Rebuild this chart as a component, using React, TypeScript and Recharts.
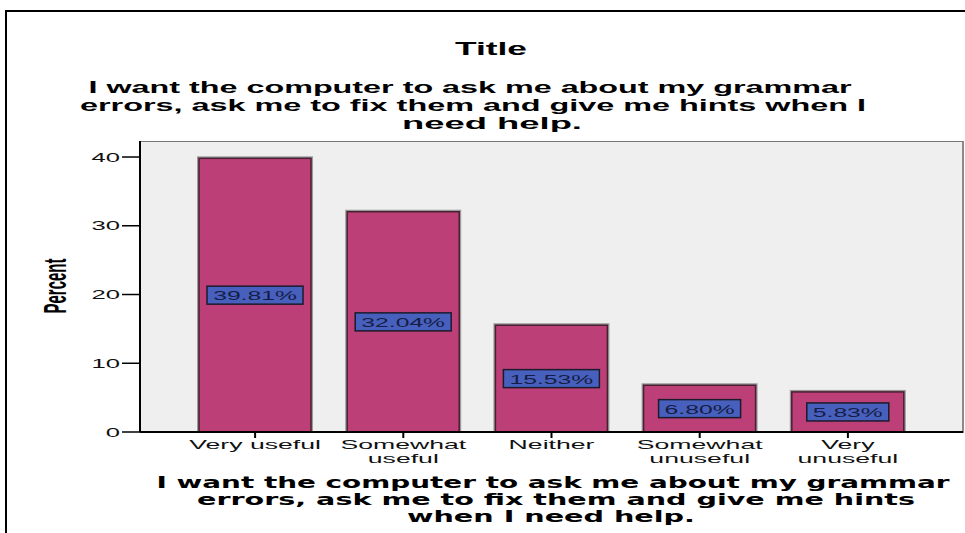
import React from 'react';
import { BarChart, Bar, XAxis, YAxis, LabelList } from 'recharts';

const categories = ['Very useful', 'Somewhat\nuseful', 'Neither', 'Somewhat\nunuseful', 'Very\nunuseful'];
const percents = [39.81, 32.04, 15.53, 6.8, 5.83];
const percentLabels = ['39.81%', '32.04%', '15.53%', '6.80%', '5.83%'];
const yTicks = [0, 10, 20, 30, 40];

const chartTitle = 'Title';
const questionLines = [
  'I want the computer to ask me about my grammar',
  'errors, ask me to fix them and give me hints when I',
  'need help.',
];
const axisTitleLines = [
  'I want the computer to ask me about my grammar',
  'errors, ask me to fix them and give me hints',
  'when I need help.',
];
const yAxisTitle = 'Percent';

const data = categories.map((c, i) => ({ name: c, value: percents[i], label: percentLabels[i] }));

const SX = 2.05; // the source image is stretched sideways
const FONT = '"Liberation Sans", Arial, sans-serif';

function CatTick({ x, y, payload }: any) {
  const lines = String(payload.value).split('\n');
  return (
    <text transform={`translate(${x},${y}) scale(${SX},1)`} textAnchor="middle" fontFamily={FONT} fontSize={13} fill="#111">
      {lines.map((l, i) => (
        <tspan key={i} x={0} dy={i === 0 ? 9 : 14}>{l}</tspan>
      ))}
    </text>
  );
}

function ValTick({ x, y, payload }: any) {
  return (
    <text transform={`translate(${x},${y}) scale(${SX},1)`} textAnchor="end" dy={4.5} fontFamily={FONT} fontSize={12.5} fill="#111">
      {payload.value}
    </text>
  );
}

function BarShape({ x, y, width, height }: any) {
  return (
    <g>
      <rect x={x - 1} y={y - 1} width={width + 2} height={height + 1} fill="none" stroke="#9a9a9a" strokeWidth={2} />
      <rect x={x} y={y} width={width} height={height} fill="#bc3f78" stroke="#4a1f30" strokeWidth={1.5} />
    </g>
  );
}

function BoxLabel({ x, y, width, height, value }: any) {
  const text = String(value);
  const w = text.length * 14 + 12;
  const cx = x + width / 2;
  const cy = y + height / 2;
  return (
    <g>
      <rect x={cx - w / 2} y={cy - 9} width={w} height={18} fill="#4760bd" stroke="#1b1b2b" strokeWidth={1.5} />
      <text transform={`translate(${cx},${cy + 5}) scale(1.9,1)`} textAnchor="middle" fontFamily={FONT} fontSize={13} fill="#161d45">
        {text}
      </text>
    </g>
  );
}

export default function App() {
  return (
    <div style={{ position: 'absolute', left: 0, top: 0, width: 965, height: 533, background: '#fff', overflow: 'hidden' }}>
      {/* outer frame */}
      <div style={{ position: 'absolute', left: 5, top: 10, width: 970, height: 540, borderLeft: '2px solid #000', borderTop: '2px solid #000' }} />
      {/* plot background */}
      <div style={{ position: 'absolute', left: 140, top: 141, width: 822, height: 291, background: '#efefef', borderTop: '1px solid #777', borderRight: '2px solid #8a8a8a' }} />
      <div style={{ position: 'absolute', left: 0, top: 0 }}>
        <BarChart width={965} height={533} data={data} margin={{ top: 141, right: 2, bottom: 61, left: 60 }}>
          <XAxis
            dataKey="name"
            interval={0}
            height={40}
            padding={{ left: 41, right: 41 }}
            axisLine={{ stroke: '#000', strokeWidth: 2 }}
            tickLine={{ stroke: '#000', strokeWidth: 2 }}
            tickSize={6}
            tick={<CatTick />}
          />
          <YAxis
            width={80}
            domain={[0, 42.33]}
            ticks={yTicks}
            axisLine={{ stroke: '#000', strokeWidth: 2 }}
            tickLine={{ stroke: '#000', strokeWidth: 1.5 }}
            tickSize={18}
            tickMargin={2}
            tick={<ValTick />}
          />
          <Bar dataKey="value" barSize={112} shape={<BarShape />} isAnimationActive={false}>
            <LabelList dataKey="label" content={<BoxLabel />} />
          </Bar>
        </BarChart>
      </div>
      {/* titles */}
      <svg width={965} height={533} style={{ position: 'absolute', left: 0, top: 0, pointerEvents: 'none' }}>
        <text x={491} y={55} textAnchor="middle" fontFamily={FONT} fontWeight="bold" fontSize={18} textLength={72} lengthAdjust="spacingAndGlyphs">
          {chartTitle}
        </text>
        {questionLines.map((l, i) => {
          const cx = [470, 473, 492][i];
          const w = [763, 786, 180][i];
          return (
            <text key={i} x={cx} y={93 + i * 18} textAnchor="middle" fontFamily={FONT} fontWeight="bold" fontSize={17} textLength={w} lengthAdjust="spacingAndGlyphs">
              {l}
            </text>
          );
        })}
        <text transform={`translate(66,286) scale(2.1,1) rotate(-90)`} textAnchor="middle" fontFamily={FONT} fontWeight="bold" fontSize={15}>
          {yAxisTitle}
        </text>
        {axisTitleLines.map((l, i) => {
          const cx = [553, 556, 551][i];
          const w = [793, 718, 288][i];
          return (
            <text key={i} x={cx} y={488 + i * 17} textAnchor="middle" fontFamily='"DejaVu Sans", Verdana, sans-serif' fontWeight="bold" fontSize={15.5} textLength={w} lengthAdjust="spacingAndGlyphs">
              {l}
            </text>
          );
        })}
      </svg>
    </div>
  );
}
